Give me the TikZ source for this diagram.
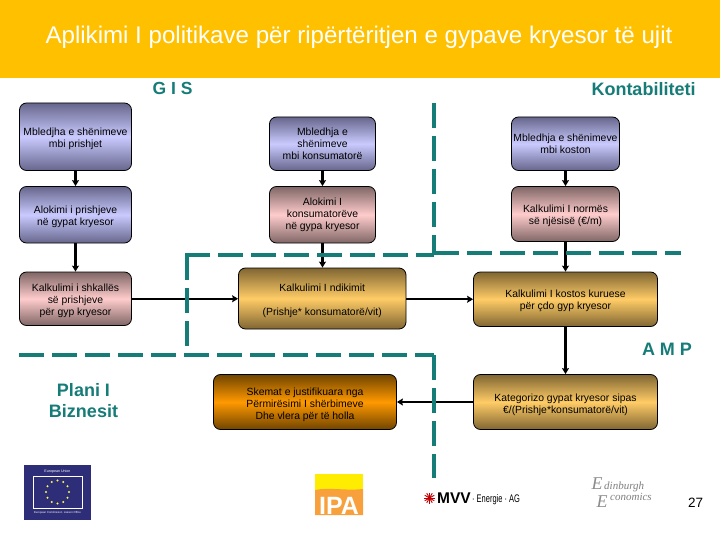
\documentclass[tikz,border=0pt]{standalone}
\usepackage{fontspec}
\setmainfont{Liberation Sans}
\newfontfamily\serifit{Liberation Serif}
\usetikzlibrary{arrows.meta,calc}
\definecolor{teal1}{HTML}{167C78}
\definecolor{hdr}{HTML}{FFC000}
\definecolor{blueend}{HTML}{66668C}
\definecolor{bluemid}{HTML}{CACAFF}
\definecolor{pinkend}{HTML}{806666}
\definecolor{pinkmid}{HTML}{FFCCCC}
\definecolor{goldend}{HTML}{806633}
\definecolor{goldmid}{HTML}{FFCC66}
\definecolor{orangeend}{HTML}{704400}
\definecolor{orangemid}{HTML}{FF9900}
\tikzset{
  box/.style={draw=black,line width=0.8pt,rounded corners=7pt,align=center,inner sep=0pt,
    font=\fontsize{10.4}{12}\selectfont,text=black},
  bluebox/.style={box,top color=blueend,bottom color=blueend,middle color=bluemid},
  pinkbox/.style={box,top color=pinkend,bottom color=pinkend,middle color=pinkmid},
  goldbox/.style={box,top color=goldend,bottom color=goldend,middle color=goldmid},
  orangebox/.style={box,top color=orangeend,bottom color=orangeend,middle color=orangemid},
  conn/.style={draw=black,line width=2.4pt,-{Stealth[length=6pt,width=7pt,inset=1pt]}},
  tealdash/.style={draw=teal1,line width=3.6pt,dash pattern=on 25pt off 8pt},
  tealtext/.style={text=teal1,font=\bfseries\fontsize{18}{21}\selectfont,inner sep=0pt,align=center},
}
\newcommand{\bx}[7]{% style,name,x0,y0,x1,y1,text
  \node[#1,minimum width={(#5-#3)*1pt},minimum height={(#6-#4)*1pt}] (#2) at ({(#3+#5)/2},{(#4+#6)/2}) {#7};}
\newcommand{\lowr}[1]{\rule{0pt}{#1pt}}
\begin{document}
\begin{tikzpicture}[x=1pt,y=-1pt]
\useasboundingbox (0,0) rectangle (720,540);
\fill[white] (0,0) rectangle (720,540);
\fill[hdr] (0,0) rectangle (720,78);
\node[text=white,font=\fontsize{24.1}{28}\selectfont,inner sep=0pt] (title) at (359,37.5) {Aplikimi I politikave për ripërtëritjen e gypave kryesor të ujit};
\node[tealtext,font=\bfseries\fontsize{17.5}{21}\selectfont] (gis) at (172.5,88.5) {G I S};
\node[tealtext] (kont) at (643.5,89) {Kontabiliteti};
\node[tealtext] (amp) at (667,349) {A M P};
\node[tealtext] (plani) at (83.5,400.5) {Plani I\\Biznesit};
\node[inner sep=0pt,font=\fontsize{13.5}{16}\selectfont] (num) at (695.5,503) {27};

% boxes
\bx{bluebox}{a1}{19.5}{103}{131.5}{170.5}{\lowr{11}Mbledjha e shënimeve\\mbi prishjet}
\bx{bluebox}{a2}{19.5}{186.5}{131.5}{243}{\lowr{12}Alokimi i prishjeve\\në gypat kryesor}
\bx{pinkbox}{a3}{19.5}{272}{131.5}{325.5}{\lowr{11}Kalkulimi i shkallës\\së prishjeve\\për gyp kryesor}
\bx{bluebox}{b1}{269.5}{117}{375.5}{170.5}{Mbledhja e\\shënimeve\\mbi konsumatorë}
\bx{pinkbox}{b2}{269.5}{186.5}{375.5}{243}{Alokimi I\\konsumatorëve\\në gypa kryesor}
\bx{goldbox}{b3}{238.5}{268}{406}{329}{\lowr{12}Kalkulimi I ndikimit\\[12pt](Prishje* konsumatorë/vit)}
\bx{bluebox}{c1}{511.5}{117}{619.5}{170.5}{Mbledhja e shënimeve\\mbi koston}
\bx{pinkbox}{c2}{511.5}{186.5}{619.5}{241.5}{\lowr{12}Kalkulimi I normës\\së njësisë (€/m)}
\bx{goldbox}{c3}{473.5}{272}{657.5}{326.5}{\lowr{11}Kalkulimi I kostos kuruese\\për çdo gyp kryesor}
\bx{orangebox}{d1}{213.5}{374.5}{396.5}{429.5}{\lowr{14}Skemat e justifikuara nga\\Përmirësimi I shërbimeve\\Dhe vlera për të holla}
\bx{goldbox}{d2}{473.5}{374.5}{657.5}{429.5}{\lowr{13}Kategorizo gypat kryesor sipas\\€/(Prishje*konsumatorë/vit)}

% connectors
\draw[conn] (a1) -- (a2);
\draw[conn] (a2) -- (a3);
\draw[conn] (b1) -- (b2);
\draw[conn] (b2) -- (b3.north -| b2);
\draw[conn] (c1) -- (c2);
\draw[conn] (c2) -- (c3);
\draw[conn] (a3.east) -- (a3.east -| b3.west);
\draw[conn] (b3.east |- c3) -- (c3.west);
\draw[conn] (c3) -- (d2);
\draw[conn] (d2) -- (d1);

% dashed separators
\coordinate (p1) at (185,255); \coordinate (p2) at (434,255);
\coordinate (p3) at (434,103); \coordinate (p4) at (434,253);
\coordinate (p5) at (681,253); \coordinate (p6) at (187,255);
\coordinate (p7) at (187,355); \coordinate (p8) at (19,355);
\coordinate (p9) at (434,355); \coordinate (p10) at (434,478);
\draw[tealdash] (p1) -- (p2);
\draw[tealdash] (p3) -- (p4);
\draw[tealdash] (p4) -- (p5);
\draw[tealdash] (p6) -- (p7);
\draw[tealdash] (p8) -- (p9);
\draw[tealdash] (p9) -- (p10);

% EU logo
\definecolor{euband}{HTML}{2E2E78}
\fill[euband] (24,465) rectangle (91,520);
\draw[white,line width=0.4pt] (33,476) rectangle (82,508);
\node[text=white,font=\fontsize{3.6}{4}\selectfont,inner sep=0pt] at (57.5,471.5) {European Union};
\node[text=white,font=\fontsize{2.8}{3}\selectfont,inner sep=0pt] at (57.5,513) {European Commission\ \ Liaison Office};
\foreach \a in {0,30,...,330}
  \fill[yellow!70!white] ({57.5+11.5*cos(\a)},{492-11.5*sin(\a)}) circle (1.2);

% IPA logo
\fill[yellow!95!orange] (315,474) rectangle (363,490);
\definecolor{ipaor}{HTML}{F7A03C}
\fill[ipaor] (315,490) .. controls (330,487) and (345,491) .. (363,489) -- (363,515) -- (315,515) -- cycle;
\node[anchor=base,text=white,font=\bfseries\fontsize{25}{27}\selectfont,inner sep=0pt] at (339,514) {IPA};

% MVV logo
\foreach \a in {0,30,...,150}
  \draw[red!75!black,line width=0.9pt] ({429.5+5.5*cos(\a)},{498-5.5*sin(\a)}) -- ({429.5-5.5*cos(\a)},{498+5.5*sin(\a)});
\node[anchor=west,inner sep=0pt,font=\bfseries\fontsize{15.5}{17}\selectfont] at (437,498.5) {MVV};
\node[anchor=west,inner sep=0pt,font=\fontsize{11}{12}\selectfont,xscale=0.68,transform shape] at (472,500) {· Energie · AG};

% Edinburgh Economics logo
\node[text=black!45,font=\serifit\itshape\fontsize{18}{18}\selectfont,inner sep=0pt] at (597,484) {E};
\node[text=black!45,font=\serifit\itshape\fontsize{18}{18}\selectfont,inner sep=0pt] at (602,502) {E};
\node[anchor=west,text=black!50,font=\serifit\itshape\fontsize{11}{12}\selectfont,inner sep=0pt] at (604,487) {dinburgh};
\node[anchor=west,text=black!50,font=\serifit\itshape\fontsize{11}{12}\selectfont,inner sep=0pt] at (610,497) {conomics};
\end{tikzpicture}
\end{document}
